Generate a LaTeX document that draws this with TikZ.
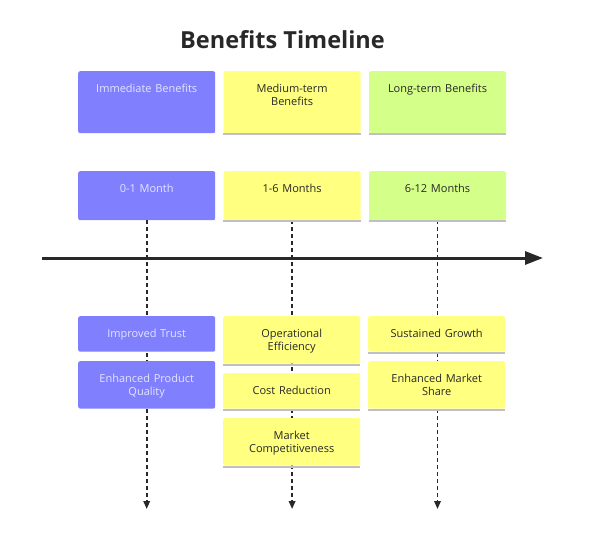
\documentclass[tikz,border=0pt]{standalone}
\usepackage{fontspec}
\setmainfont{Open Sans}
\usetikzlibrary{arrows.meta}
\usetikzlibrary{positioning}
\usetikzlibrary{backgrounds}
\definecolor{immc}{RGB}{128,128,255}
\definecolor{medc}{RGB}{255,255,128}
\definecolor{longc}{RGB}{212,255,136}
\definecolor{edgec}{RGB}{192,192,196}
\definecolor{inkc}{RGB}{40,40,40}
\definecolor{paletext}{RGB}{228,228,255}
\tikzset{
box/.style = {fill=#1, rounded corners=2pt, text width=117pt, align=center,
              inner xsep=10pt, inner ysep=0pt, text height=21pt,
              font=\fontsize{11}{13}\selectfont, text=inkc},
box/.default = medc,
pale/.style = {text=paletext},
lowedge/.style = {append after command={([yshift=-1pt]\tikzlastnode.south west)
                  edge[draw=edgec, line width=2pt, rounded corners=0pt] ([yshift=-1pt]\tikzlastnode.south east)}},
one/.style = {text depth=14.5pt},
two/.style = {text depth=26.5pt},
timedash/.style = {draw=inkc, line width=1.8pt, dash pattern=on 3.5pt off 3.5pt,
                   -{Triangle[length=8pt,width=6.5pt]}},
axis/.style = {draw=inkc, line width=3pt, -{Triangle[length=18pt,width=13pt]}}
}
\begin{document}
\begin{tikzpicture}[x=1pt, y=-1pt, node distance=9pt]
    \useasboundingbox (0,0) rectangle (596,541);

    \node[font=\fontsize{23.5}{28}\bfseries, text=inkc, anchor=base] (title) at (282.5,48) {Benefits Timeline};

    % phases
    \node[box=immc, pale, text depth=41pt, anchor=north west] (imm) at (78,71) {Immediate Benefits};
    \node[box=medc, lowedge, text depth=41pt, right=8pt of imm.north east, anchor=north west] (med) {Medium-term\\Benefits};
    \node[box=longc, lowedge, text depth=41pt, right=8pt of med.north east, anchor=north west] (long) {Long-term Benefits};

    % time spans
    \node[box=immc, pale, text depth=28pt, anchor=north west] (immt) at (78,171) {0-1 Month};
    \node[box=medc, lowedge, text depth=28pt, right=8pt of immt.north east, anchor=north west] (medt) {1-6 Months};
    \node[box=longc, lowedge, text depth=28pt, right=8pt of medt.north east, anchor=north west] (longt) {6-12 Months};

    % axis
    \coordinate (axl) at (42,258);
    \coordinate (axr) at (543,258);
    \draw[axis] (axl) -- (axr);

    % outcomes
    \node[box=immc, pale, one, anchor=north west] (trust) at (78,316) {Improved Trust};
    \node[box=immc, pale, two, below=of trust] (quality) {Enhanced Product\\Quality};

    \node[box=medc, lowedge, two, anchor=north west] (ops) at (223,316) {Operational\\Efficiency};
    \node[box=medc, lowedge, one, below=of ops] (cost) {Cost Reduction};
    \node[box=medc, lowedge, two, below=of cost] (compete) {Market\\Competitiveness};

    \node[box=medc, lowedge, one, anchor=north west] (growth) at (368,316) {Sustained Growth};
    \node[box=medc, lowedge, two, below=of growth] (share) {Enhanced Market\\Share};

    \coordinate (e1) at (immt.south |- 0,509);
    \coordinate (e2) at (medt.south |- 0,509);
    \coordinate (e3) at (longt.south |- 0,509);

    \begin{scope}[on background layer]
        \fill[white] (0,0) rectangle (596,541);
        \draw[timedash] (immt.south) -- (e1);
        \draw[timedash] (medt.south) -- (e2);
        \draw[timedash] (longt.south) -- (e3);
    \end{scope}
\end{tikzpicture}
\end{document}
